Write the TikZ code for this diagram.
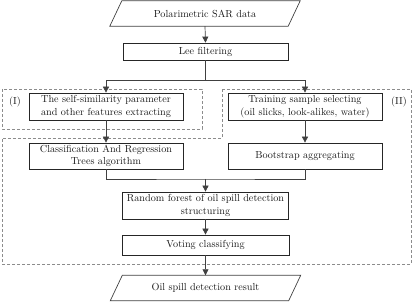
\documentclass[tikz,border=0pt]{standalone}
\usetikzlibrary{arrows.meta,calc}
\begin{document}
\begin{tikzpicture}[x=1pt,y=-1pt,
  box/.style={draw=black!85,line width=0.7pt,align=center,inner sep=1pt,font=\fontsize{10.2}{12.5}\selectfont,text=black!90},
  iobox/.style={align=center,inner sep=1pt,font=\fontsize{10.2}{12.5}\selectfont,text=black!90,minimum width=190pt,minimum height=25pt},
  link/.style={draw=black!75,line width=0.7pt},
  arr/.style={link,-{Triangle[length=6pt,width=6pt]}},
  region/.style={draw=black!45,line width=0.6pt,dash pattern=on 3pt off 2pt},
  lab/.style={font=\fontsize{10.2}{12.5}\selectfont,text=black!90}]
\useasboundingbox (0,0) rectangle (416,305);
% regions
\draw[region] (2,89) rectangle (202,129);
\draw[region] (222,89) -- (411,89) -- (411,264) -- (2,264) -- (2,138) -- (222,138) -- cycle;
\node[lab] (l1) at (15,102) {(I)};
\node[lab] (l2) at (399,102) {(II)};
% input / output
\node[iobox] (in) at (205,13.5) {Polarimetric SAR data};
\draw[link] (in.south west) -- ([xshift=12pt]in.north west) -- (in.north east) -- ([xshift=-12pt]in.south east) -- cycle;
\node[iobox] (out) at (205.5,288) {Oil spill detection result};
\draw[link] (out.south west) -- ([xshift=12pt]out.north west) -- (out.north east) -- ([xshift=-12pt]out.south east) -- cycle;
% boxes
\node[box,minimum width=165pt,minimum height=17pt] (lee) at (205.5,51.5) {Lee filtering};
\node[box,minimum width=154pt,minimum height=27pt] (self) at (106,106.5) {The self-similarity parameter\\and other features extracting};
\node[box,minimum width=154pt,minimum height=27pt] (train) at (305,106.5) {Training sample selecting\\(oil slicks, look-alikes, water)};
\node[box,minimum width=154pt,minimum height=26pt] (cart) at (106,156) {Classification And Regression\\Trees algorithm};
\node[box,minimum width=154pt,minimum height=26pt] (boot) at (305,156) {Bootstrap aggregating};
\node[box,minimum width=166pt,minimum height=27pt] (rf) at (205.5,205.5) {Random forest of oil spill detection\\structuring};
\node[box,minimum width=167pt,minimum height=20pt] (vote) at (205.5,245) {Voting classifying};
% connectors
\coordinate (split) at (205.5,80);
\coordinate (merge) at (205.5,179);
\draw[arr] (in.south) -- (lee.north);
\draw[link] (lee.south) -- (split);
\draw[arr] (split) -| (self.north);
\draw[arr] (split) -| (train.north);
\draw[arr] (self.south) -- (cart.north);
\draw[arr] (train.south) -- (boot.north);
\draw[link] (cart.south) |- (merge) -| (boot.south);
\draw[arr] (merge) -- (rf.north);
\draw[arr] (rf.south) -- (vote.north);
\draw[arr] (vote.south) -- (out.north);
\end{tikzpicture}
\end{document}
